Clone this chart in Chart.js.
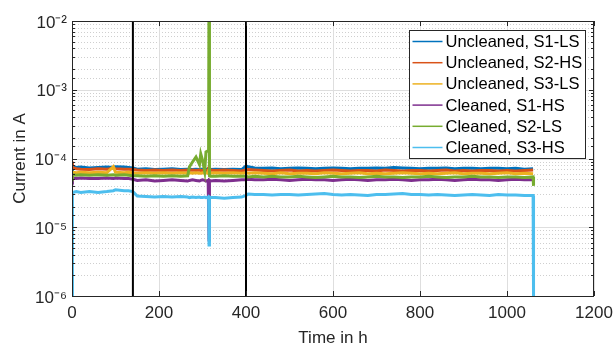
<!DOCTYPE html>
<html><head><meta charset="utf-8">
<script src="https://cdn.jsdelivr.net/npm/chart.js@4.4.1/dist/chart.umd.min.js"></script>
<style>html,body{margin:0;padding:0;background:#fff;}#wrap{width:616px;height:347px;}</style>
</head><body><div id="wrap"><canvas id="c" width="616" height="347"></canvas></div>
<script>
// Time axis (h), shared by all series
const hours = [0,1,10,20,40,60,80,95,100,120,130,
  140,150,170,190,210,230,250,266,270,277,
  285,293,296,300,305,308,313,314,315,316,318,
  330,350,370,390,400,405,420,
  440,460,480,500,520,540,560,580,600,620,640,660,680,700,720,740,760,780,800,820,840,860,880,900,920,940,960,980,1000,1020,1040,1060,
  1061];

// Currents, stored in units of 1e-5 A (null = no sample)
const UNIT = 1e-5;
const uncleanedS1LS = [7.8,7.6,7.4,7.5,7.3,7.4,7.5,7.4,7.6,7.5,7.4,
  7.3,7.0,7.1,6.9,7.0,7.1,6.9,7.0,7.0,6.9,
  7.0,6.9,7.0,7.0,6.9,7.0,7.0,6.9,7.0,7.0,6.9,
  7.0,6.9,7.0,6.9,7.8,7.6,7.3,
  7.2,7.3,7.1,7.2,7.3,7.2,7.1,7.2,7.3,7.2,7.1,7.2,7.2,7.3,7.2,7.4,7.3,7.2,7.1,7.2,7.2,7.3,7.1,7.2,7.2,7.1,7.2,7.2,7.1,7.2,7.0,7.1,
  null];
const uncleanedS2HS = [9.0,7.4,7.1,7.0,6.9,7.1,7.0,7.2,7.1,7.0,7.0,
  6.9,6.8,6.7,6.8,6.7,6.8,6.7,6.8,6.7,6.8,
  6.7,6.8,6.7,6.7,6.8,6.7,6.7,6.8,6.7,6.7,6.8,
  6.7,6.8,6.7,6.6,6.8,6.9,6.8,
  6.7,6.6,6.7,6.8,6.6,6.7,6.6,6.7,6.8,6.7,6.6,6.7,6.7,6.6,6.8,6.7,6.6,6.7,6.7,6.6,6.7,6.8,6.6,6.7,6.6,6.7,6.7,6.6,6.7,6.6,6.7,6.8,
  null];
const uncleanedS3LS = [6.5,6.3,6.2,6.3,6.2,6.3,6.2,7.6,6.3,6.2,6.3,
  6.2,6.1,6.2,6.1,6.2,6.1,6.2,6.1,6.2,6.1,
  6.2,6.1,6.1,6.2,6.1,6.2,6.1,6.2,6.1,6.2,6.1,
  6.2,6.1,6.2,6.1,6.2,6.1,6.2,
  6.1,6.0,6.2,6.0,6.1,6.1,6.0,6.2,6.1,6.0,6.1,6.2,6.0,6.1,6.0,6.1,6.2,6.1,6.0,6.1,6.0,6.1,6.2,6.0,6.1,6.1,6.0,6.1,6.2,6.0,6.1,6.0,
  null];
const cleanedS1HS = [5.4,5.2,5.1,5.2,5.1,5.1,5.2,5.1,5.2,5.1,5.1,
  5.0,4.8,4.9,4.7,4.8,4.9,4.8,4.7,4.8,4.9,
  4.8,4.7,4.8,4.9,4.8,4.7,4.8,4.8,0.65,4.8,4.7,
  4.8,4.7,4.8,4.9,4.9,5.0,4.9,
  4.9,5.0,4.9,4.8,4.9,5.0,4.9,4.9,4.8,4.9,5.0,4.9,4.8,4.9,4.9,5.0,4.9,4.8,4.9,4.9,5.0,4.9,4.8,4.9,5.0,4.9,4.9,4.8,4.9,5.0,4.9,4.9,
  null];
const cleanedS2LS = [6.0,5.8,5.7,5.8,5.7,5.8,5.7,5.8,5.7,5.8,5.7,
  5.6,5.6,5.5,5.6,5.5,5.6,5.5,5.6,7.6,8.9,
  10.5,8.2,11.7,9.5,6.5,12.5,13.0,14.0,5000,5.6,5.5,
  5.5,5.6,5.5,5.5,5.5,5.4,5.5,
  5.4,5.5,5.4,5.4,5.5,5.4,5.3,5.4,5.5,5.4,5.4,5.3,5.4,5.5,5.4,5.4,5.3,5.4,5.4,5.5,5.4,5.3,5.4,5.4,5.5,5.4,5.4,5.3,5.4,5.4,5.3,5.4,
  4.0];
const cleanedS3HS = [0.1,3.2,3.3,3.2,3.3,3.2,3.3,3.4,3.5,3.4,3.4,
  3.3,2.85,2.8,2.75,2.8,2.75,2.8,2.75,2.7,2.75,
  2.7,2.75,2.7,2.7,2.75,2.7,2.75,2.7,0.55,2.75,2.7,
  2.7,2.65,2.7,2.75,2.9,3.05,3.0,
  3.0,2.95,3.0,3.0,2.95,3.0,3.05,3.1,3.0,2.95,3.0,2.95,2.9,3.0,3.0,3.05,3.1,3.0,3.0,2.95,3.0,2.95,2.9,2.95,3.0,2.95,2.9,3.0,2.95,2.95,2.9,2.9,
  0.1];

const seriesLabels = ['Uncleaned, S1-LS','Uncleaned, S2-HS','Uncleaned, S3-LS','Cleaned, S1-HS','Cleaned, S2-LS','Cleaned, S3-HS'];
const seriesValues = [uncleanedS1LS, uncleanedS2HS, uncleanedS3LS, cleanedS1HS, cleanedS2LS, cleanedS3HS];
const seriesColors = ['#0072BD','#D95319','#EDB120','#7E2F8E','#77AC30','#4DBEEE'];

// Phase boundaries (h), drawn as black vertical lines
const phaseBoundaries = [140, 400];

// Axis ranges / ticks
const xMin = 0, xMax = 1200, xStep = 200;
const yMin = 1e-6, yMax = 1e-2;

const SUP = {'-':'\u207B','0':'\u2070','1':'\u00B9','2':'\u00B2','3':'\u00B3','4':'\u2074','5':'\u2075','6':'\u2076','7':'\u2077','8':'\u2078','9':'\u2079'};
function sup(n){return String(n).split('').map(c=>SUP[c]).join('');}
function isDecade(v){const l=Math.log10(v);return Math.abs(l-Math.round(l))<1e-9;}

const datasets = seriesValues.map((vals,i)=>({
  label: seriesLabels[i],
  data: hours.map((h,k)=>vals[k]==null?null:{x:h,y:vals[k]*UNIT}).filter(p=>p),
  borderColor: seriesColors[i],
  backgroundColor: seriesColors[i],
  borderWidth: 3,
  pointRadius: 0,
  tension: 0,
  order: 6-i
}));
phaseBoundaries.forEach(b=>{
  datasets.push({label:'', data:[{x:b,y:yMin},{x:b,y:yMax}], borderColor:'#000', borderWidth:2, pointRadius:0, order:0, isBoundary:true});
});

const AX = '#262626';
const FONT = '"Liberation Sans", Arial, Helvetica, sans-serif';

const frame = {
  id:'frame',
  beforeDatasetsDraw(chart){
    const {ctx, chartArea:a, scales:{x,y}} = chart;
    ctx.save();
    ctx.lineWidth = 1;
    y.ticks.forEach(t=>{
      if (t.value < yMin || t.value > yMax) return;
      const py = Math.round(y.getPixelForValue(t.value))+0.5;
      const major = isDecade(t.value);
      ctx.strokeStyle = major ? '#dedede' : '#cfcfcf';
      ctx.setLineDash(major ? [] : [1,2]);
      ctx.beginPath(); ctx.moveTo(a.left,py); ctx.lineTo(a.right,py); ctx.stroke();
    });
    ctx.setLineDash([]);
    ctx.strokeStyle = '#dedede';
    x.ticks.forEach(t=>{
      const px = Math.round(x.getPixelForValue(t.value))+0.5;
      ctx.beginPath(); ctx.moveTo(px,a.top); ctx.lineTo(px,a.bottom); ctx.stroke();
    });
    ctx.restore();
  },
  afterDraw(chart){
    const {ctx, chartArea:a, scales:{x,y}} = chart;
    ctx.save();
    ctx.strokeStyle = AX; ctx.lineWidth = 1;
    ctx.strokeRect(Math.round(a.left)+0.5, Math.round(a.top)+0.5, Math.round(a.right-a.left)-1, Math.round(a.bottom-a.top));
    // inward ticks
    ctx.beginPath();
    x.ticks.forEach(t=>{
      const px = Math.round(x.getPixelForValue(t.value))+0.5;
      ctx.moveTo(px,a.bottom); ctx.lineTo(px,a.bottom-5);
      ctx.moveTo(px,a.top); ctx.lineTo(px,a.top+5);
    });
    y.ticks.forEach(t=>{
      if (t.value < yMin || t.value > yMax) return;
      const py = Math.round(y.getPixelForValue(t.value))+0.5;
      const len = isDecade(t.value) ? 5 : 3;
      ctx.moveTo(a.left,py); ctx.lineTo(a.left+len,py);
      ctx.moveTo(a.right,py); ctx.lineTo(a.right-len,py);
    });
    ctx.stroke();
    // legend
    const lx=409.5, ly=30.5, lw=176, lh=128;
    ctx.fillStyle='#fff'; ctx.fillRect(lx,ly,lw,lh);
    ctx.strokeStyle=AX; ctx.strokeRect(lx,ly,lw,lh);
    ctx.font = '16.5px '+FONT; ctx.textBaseline='middle'; ctx.textAlign='left';
    chart.data.datasets.forEach((d,i)=>{
      if (d.isBoundary) return;
      const cy = ly + 11 + i*21.2;
      ctx.strokeStyle = d.borderColor; ctx.lineWidth = 1.5;
      ctx.beginPath(); ctx.moveTo(lx+3,cy); ctx.lineTo(lx+33,cy); ctx.stroke();
      ctx.fillStyle = '#000';
      ctx.fillText(d.label, lx+36, cy+1);
    });
    ctx.restore();
  }
};

new Chart(document.getElementById('c'), {
  type:'line',
  data:{datasets},
  options:{
    responsive:false, animation:false, devicePixelRatio:1,
    layout:{padding:{top:21,right:22,left:0,bottom:0}},
    plugins:{legend:{display:false}, tooltip:{enabled:false}},
    scales:{
      x:{type:'linear', min:xMin, max:xMax,
        ticks:{stepSize:xStep, color:AX, font:{family:FONT,size:17}, padding:7, maxRotation:0, callback:(v)=>String(v)},
        grid:{display:false, drawTicks:false}, border:{display:false},
        title:{display:true, text:'Time in h', color:AX, font:{family:FONT,size:17,lineHeight:1}, padding:{top:0,bottom:0}},
        afterFit(s){s.height=51; s.paddingLeft=0; s.paddingRight=0;}
      },
      y:{type:'logarithmic', min:yMin, max:yMax,
        ticks:{autoSkip:false, color:AX, font:{family:FONT,size:17}, padding:5, labelOffset:2,
          callback:(v)=>isDecade(v)?'10'+sup(Math.round(Math.log10(v))):''},
        grid:{display:false, drawTicks:false}, border:{display:false},
        title:{display:true, text:'Current in A', color:AX, font:{family:FONT,size:17,lineHeight:1}, padding:{top:12,bottom:0}},
        afterFit(s){s.width=72; s.paddingTop=0; s.paddingBottom=0;}
      }
    }
  },
  plugins:[frame]
});
</script></body></html>
